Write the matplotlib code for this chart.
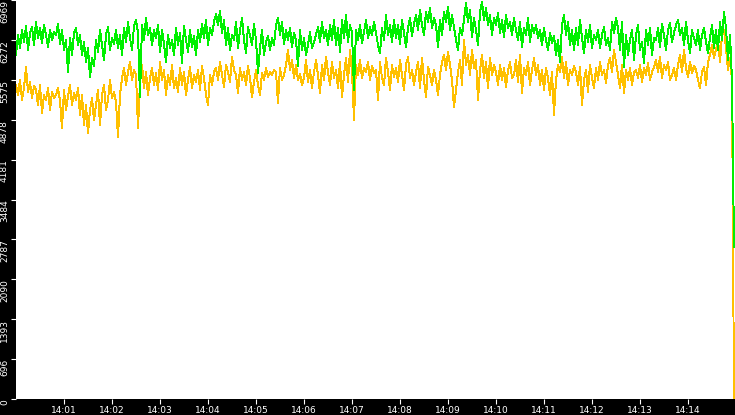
import matplotlib
matplotlib.use("Agg")
import matplotlib.pyplot as plt
import numpy as np

# time step between samples (seconds), samples start at 14:00:00
step_s = 2.5

green = [
    6008, 6358, 6131, 6445, 6235, 6515, 6096, 6393, 6497, 6183,
    6585, 6305, 6480, 6218, 6532, 6358, 6148, 6445, 6270, 6410,
    6358, 6550, 6200, 6445, 6096, 6270, 5711, 6305, 6008, 6393,
    6480, 6183, 6358, 6008, 6235, 5886, 6131, 5624, 5956, 5816,
    6270, 6061, 6445, 6183, 5921, 6358, 6497, 6096, 6305, 6200,
    6445, 6131, 6358, 6008, 6480, 6235, 6585, 6305, 6096, 6515,
    6620, 6393, 5274, 6532, 6270, 6655, 6358, 6480, 6183, 6445,
    6305, 6532, 6061, 6445, 6200, 5886, 6358, 6131, 6270, 6008,
    6480, 6183, 6393, 5868, 6515, 6270, 6061, 6445, 6148, 6340,
    6008, 6445, 6235, 6550, 6305, 6620, 6183, 6480, 6358, 6585,
    6724, 6532, 6777, 6393, 6620, 6183, 6480, 6096, 6358, 6270,
    6585, 6131, 6445, 6655, 6270, 6043, 6497, 6358, 6183, 6550,
    6270, 5694, 6131, 6445, 6008, 6235, 6340, 6096, 6305, 6183,
    6532, 6655, 6358, 6585, 6200, 6445, 6270, 6480, 6148, 6393,
    6270, 5816, 6445, 6096, 6305, 6008, 6183, 6410, 6131, 6235,
    6358, 6497, 6235, 6585, 6305, 6445, 6183, 6532, 6270, 6620,
    6183, 6480, 6061, 6620, 6305, 6707, 6235, 6532, 6393, 5397,
    6445, 6270, 6532, 6218, 6410, 6620, 6305, 6497, 6358, 6585,
    6393, 6183, 6043, 6480, 6270, 6707, 6358, 6532, 6235, 6620,
    6305, 6532, 6200, 6620, 6393, 6148, 6480, 6655, 6340, 6550,
    6707, 6445, 6794, 6532, 6358, 6759, 6585, 6829, 6480, 6655,
    6532, 6148, 6620, 6358, 6759, 6585, 6847, 6445, 6707, 6497,
    6270, 6096, 6480, 6358, 6620, 6917, 6585, 6794, 6323, 6655,
    6445, 6183, 6759, 6934, 6620, 6829, 6532, 6707, 6358, 6655,
    6532, 6742, 6393, 6620, 6323, 6707, 6480, 6585, 6358, 6655,
    6445, 6270, 6585, 6148, 6480, 6358, 6655, 6235, 6532, 6393,
    6532, 6305, 6445, 6183, 6480, 6270, 6096, 6393, 6218, 6340,
    6008, 6270, 5886, 6532, 6707, 6358, 6585, 6183, 6445, 6096,
    6480, 6183, 6620, 6305, 6043, 6445, 6235, 6532, 6131, 6358,
    6270, 6445, 6131, 6358, 6497, 6183, 6305, 6096, 6585, 6393,
    6655, 6480, 6096, 6585, 5799, 6358, 6008, 6270, 6445, 5921,
    6358, 6532, 6096, 6235, 5868, 6445, 6183, 6480, 6008, 6305,
    6270, 6480, 6148, 6550, 6358, 6096, 6445, 6567, 6235, 6393,
    6532, 6620, 6358, 6480, 6183, 6585, 6270, 6043, 6445, 6305,
    6183, 6445, 6096, 6358, 6480, 6235, 6043, 6305, 6532, 6131,
    6445, 6096, 6585, 6270, 6759, 6480, 5921, 6358, 5572, 2654,
]

yellow = [
    5484, 5310, 5572, 5222, 5432, 5799, 5363, 5537, 5257, 5467,
    5397, 5135, 5484, 4995, 5310, 5222, 5432, 5048, 5363, 5257,
    5310, 5432, 5205, 4734, 5397, 5048, 5292, 5484, 5135, 5345,
    5222, 5432, 4960, 5310, 4786, 5135, 4641, 5048, 5257, 4873,
    5135, 5397, 4786, 5310, 5484, 5048, 5222, 5572, 5257, 5363,
    5187, 4576, 5310, 5607, 5781, 5484, 5711, 5886, 5572, 5746,
    5659, 4734, 5537, 5834, 5432, 5711, 5310, 5607, 5781, 5484,
    5694, 5397, 5886, 5572, 5746, 5310, 5659, 5484, 5834, 5432,
    5607, 5363, 5781, 5484, 5711, 5310, 5572, 5799, 5432, 5659,
    5537, 5746, 5397, 5816, 5607, 5310, 5140, 5659, 5484, 5711,
    5781, 5572, 5886, 5659, 5449, 5834, 5711, 5537, 5973, 5746,
    5659, 5345, 5781, 5572, 5711, 5484, 5816, 5607, 5274, 5537,
    5746, 5484, 5310, 5694, 5572, 5781, 5624, 5711, 5659, 5746,
    5711, 5170, 5781, 5572, 5659, 5834, 6096, 5746, 5921, 5607,
    5834, 5572, 5676, 5484, 5607, 5921, 5537, 5746, 5432, 5711,
    5921, 5659, 5345, 5834, 5572, 5973, 5711, 5484, 5886, 5607,
    5746, 5432, 5886, 5274, 5659, 5956, 5537, 6096, 5711, 4873,
    5834, 5659, 5921, 5607, 5781, 5711, 5886, 5572, 5816, 5694,
    5746, 5222, 5886, 5607, 5484, 5956, 5711, 5397, 5834, 5624,
    5781, 5537, 5921, 5659, 5397, 5834, 5973, 5607, 5746, 5484,
    5711, 5886, 5432, 5956, 5572, 5274, 5799, 5659, 5484, 5746,
    5572, 5310, 5659, 5886, 6008, 5746, 6061, 5834, 5572, 5100,
    5397, 5711, 5921, 5484, 6270, 5834, 6008, 5659, 6096, 5781,
    5921, 5222, 5746, 6008, 5607, 5886, 5432, 5956, 5659, 5834,
    5711, 5484, 5834, 5572, 5781, 5449, 5746, 5886, 5607, 5659,
    5921, 5537, 6008, 5345, 5781, 5659, 5886, 5484, 5746, 5956,
    5659, 5834, 5484, 5746, 5397, 5781, 5607, 5310, 5711, 4960,
    5572, 5834, 5711, 5973, 5607, 5886, 5484, 5746, 5659, 5816,
    5711, 5484, 5799, 5135, 5572, 5746, 5363, 5834, 5607, 5432,
    5781, 5572, 5886, 5659, 5746, 5519, 5834, 5956, 5711, 6096,
    5886, 5659, 5432, 5834, 5345, 5746, 5572, 5781, 5484, 5711,
    5746, 5607, 5834, 5537, 5781, 5659, 5869, 5572, 5711, 5799,
    5921, 5711, 5973, 5607, 5834, 5746, 5886, 5572, 5659, 5781,
    5572, 5834, 6008, 5711, 6096, 5781, 5624, 5886, 5694, 5816,
    5746, 5572, 5432, 5711, 5799, 5484, 5886, 6008, 6183, 5956,
    6096, 6270, 5886, 6358, 6445, 6131, 5746, 5956, 5572, 0,
]

y_ticks = [0, 696, 1393, 2090, 2787, 3484, 4181, 4878, 5575, 6272, 6969]
x_tick_seconds = [60, 120, 180, 240, 300, 360, 420, 480, 540, 600, 660, 720, 780, 840]
x_tick_labels = ["14:01", "14:02", "14:03", "14:04", "14:05", "14:06", "14:07",
                 "14:08", "14:09", "14:10", "14:11", "14:12", "14:13", "14:14"]

t = np.arange(len(green)) * step_s

W, H = 735, 415
fig = plt.figure(figsize=(W / 100, H / 100), dpi=100, facecolor="black")
ax = fig.add_axes([16 / W, 16 / H, 719 / W, 399 / H], facecolor="white")

ax.plot(t, yellow, color="#FFC000", lw=0.7, antialiased=False, zorder=2)
ax.plot(t, green, color="#00F000", lw=0.7, antialiased=False, zorder=3)

ax.set_xlim(0, 719 * 1.25)
ax.set_ylim(0, 6969)
for s in ax.spines.values():
    s.set_visible(False)

ax.set_xticks(x_tick_seconds)
ax.set_xticklabels(x_tick_labels)
ax.set_yticks(y_ticks)
ax.set_yticklabels([str(v) for v in y_ticks])
ax.tick_params(axis="both", colors="white", labelcolor="white", labelsize=6.5,
               length=3.5, width=0.8, direction="out")
ax.tick_params(axis="x", pad=1.5)
ax.tick_params(axis="y", pad=1.5)
for lab in ax.get_yticklabels():
    lab.set_rotation(90)
    lab.set_va("top")
    lab.set_ha("right")

fig.savefig("out.png", dpi=100, facecolor="black")
